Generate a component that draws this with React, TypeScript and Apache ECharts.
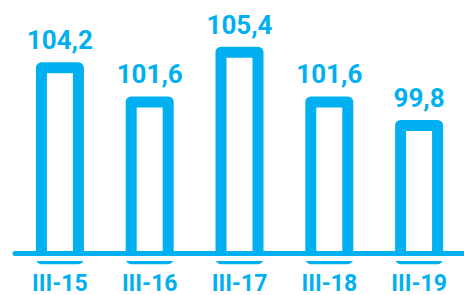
import React, { useEffect, useRef } from "react";
import * as echarts from "echarts";

const categories = ["III-15", "III-16", "III-17", "III-18", "III-19"];
const values = [104.2, 101.6, 105.4, 101.6, 99.8];

const BLUE = "#00b0f0";

export default function App() {
  const ref = useRef<HTMLDivElement>(null);
  useEffect(() => {
    if (!ref.current) return;
    const chart = echarts.init(ref.current, null, { renderer: "svg" });
    chart.setOption({
      animation: false,
      grid: { left: 15, right: 0, top: 38.8, bottom: 36.3 },
      xAxis: {
        type: "category",
        data: categories,
        offset: -5.2,
        axisLine: { show: true, lineStyle: { color: BLUE, width: 5 } },
        axisTick: { show: false },
        axisLabel: {
          color: BLUE,
          fontFamily: "Roboto",
          fontWeight: "bold",
          fontSize: 23,
          margin: 18,
        },
        z: 3,
      },
      yAxis: {
        type: "value",
        min: 89.2,
        max: 106,
        show: false,
        splitLine: { show: false },
      },
      series: [
        {
          type: "bar",
          data: values,
          barWidth: 48,
          itemStyle: {
            color: "#ffffff",
            borderColor: BLUE,
            borderWidth: 11,
            borderJoin: "round",
          },
          label: {
            show: true,
            position: "top",
            distance: 9,
            color: BLUE,
            fontFamily: "Roboto",
            fontWeight: "bold",
            fontSize: 26,
            formatter: (p: any) => Number(p.value).toFixed(1).replace(".", ","),
          },
        },
      ],
      graphic: [
        {
          type: "rect",
          z: 100,
          shape: { x: 0, y: 256, width: 464, height: 5 },
          style: { fill: "#ffffff" },
        },
      ],
    });
    return () => chart.dispose();
  }, []);
  return <div ref={ref} style={{ width: 464, height: 295, position: "absolute", left: 0, top: 0 }} />;
}
